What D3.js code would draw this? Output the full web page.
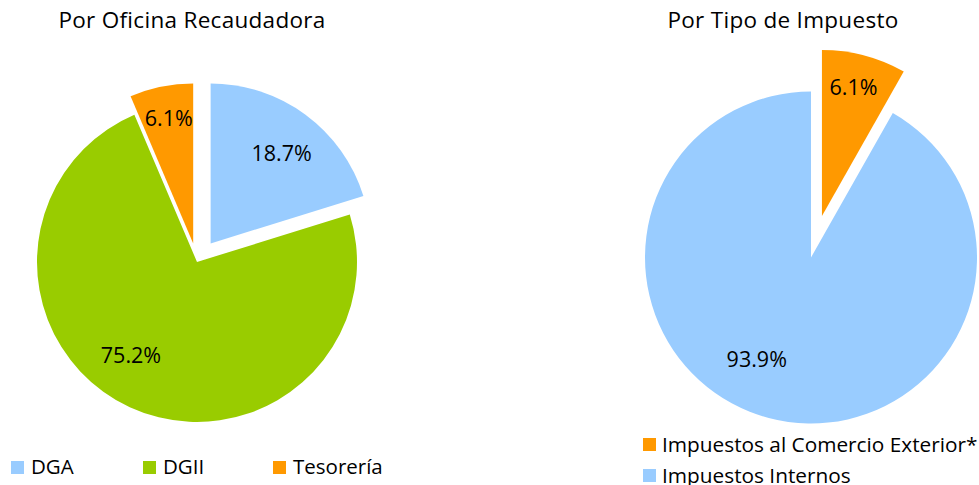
<!DOCTYPE html>
<html>
<head>
<meta charset="utf-8">
<script src="https://cdn.jsdelivr.net/npm/d3@7"></script>
<style>
  html, body { margin: 0; padding: 0; background: #fff; }
  svg { display: block; font-family: "Open Sans", "Noto Sans", sans-serif; }
</style>
</head>
<body>
<svg id="chart" width="979" height="485"></svg>
<script>
// ---- data ----
const officeCategories = ["DGA", "DGII", "Tesorería"];
const officeShares = [20.2, 73.4, 6.4];          // slice sizes as drawn in the picture
const officeLabels = ["18.7%", "75.2%", "6.1%"]; // printed labels

const taxCategories = ["Impuestos al Comercio Exterior*", "Impuestos Internos"];
const taxShares = [8.2, 91.8];                   // slice sizes as drawn in the picture
const taxLabels = ["6.1%", "93.9%"];

const officeColors = ["#99CCFF", "#99CC00", "#FF9900"];
const taxColors = ["#FF9900", "#99CCFF"];

// ---- drawing ----
const svg = d3.select("#chart");

function drawPie(cfg) {
  const g = svg.append("g");
  const pie = d3.pie().sort(null).value(d => d.v).startAngle(0).endAngle(2 * Math.PI);
  const data = cfg.values.map((v, i) => ({ v, i }));
  const arcs = pie(data);
  const arc = d3.arc().innerRadius(0).outerRadius(cfg.r);
  arcs.forEach((a, k) => {
    const mid = (a.startAngle + a.endAngle) / 2;
    const off = cfg.explode[k];
    const ox = cfg.cx + Math.sin(mid) * off;
    const oy = cfg.cy - Math.cos(mid) * off;
    g.append("path")
      .attr("d", arc(a))
      .attr("transform", `translate(${ox},${oy})`)
      .attr("fill", cfg.colors[k]);
    const la = mid + cfg.labelShift[k] * Math.PI / 180;
    const lr = cfg.r * cfg.labelRadius[k];
    g.append("text")
      .attr("x", ox + Math.sin(la) * lr)
      .attr("y", oy - Math.cos(la) * lr)
      .attr("text-anchor", "middle")
      .attr("dominant-baseline", "central")
      .attr("font-size", 21.5)
      .attr("fill", "#000")
      .text(cfg.labels[k]);
  });
  svg.append("text")
    .attr("x", cfg.titleX).attr("y", 28)
    .attr("text-anchor", "middle")
    .attr("font-size", 22.5)
    .attr("letter-spacing", 0.3)
    .attr("fill", "#000")
    .text(cfg.title);
}

drawPie({
  title: "Por Oficina Recaudadora", titleX: 192,
  values: officeShares, labels: officeLabels, colors: officeColors,
  cx: 197, cy: 262, r: 160,
  explode: [23, 0, 19],
  labelRadius: [0.72, 0.71, 0.8],
  labelShift: [1.7, 10.7, 0.5]
});

drawPie({
  title: "Por Tipo de Impuesto", titleX: 783,
  values: taxShares, labels: taxLabels, colors: taxColors,
  cx: 811, cy: 257.5, r: 166,
  explode: [43, 0],
  labelRadius: [0.8, 0.69],
  labelShift: [-1, 13.5]
});

// ---- legends ----
const legL = svg.append("g");
const legLX = [11, 143, 273];
officeCategories.forEach((c, i) => {
  legL.append("rect").attr("x", legLX[i]).attr("y", 461).attr("width", 13).attr("height", 13).attr("fill", officeColors[i]);
  legL.append("text").attr("x", legLX[i] + 20).attr("y", 474).attr("font-size", 20.5).attr("fill", "#000").text(c);
});

const legR = svg.append("g");
taxCategories.forEach((c, row) => {
  const y = 438 + row * 31;
  legR.append("rect").attr("x", 643).attr("y", y).attr("width", 13).attr("height", 13).attr("fill", taxColors[row]);
  legR.append("text").attr("x", 662).attr("y", y + 14).attr("font-size", 20.8).attr("fill", "#000").text(c);
});
</script>
</body>
</html>
